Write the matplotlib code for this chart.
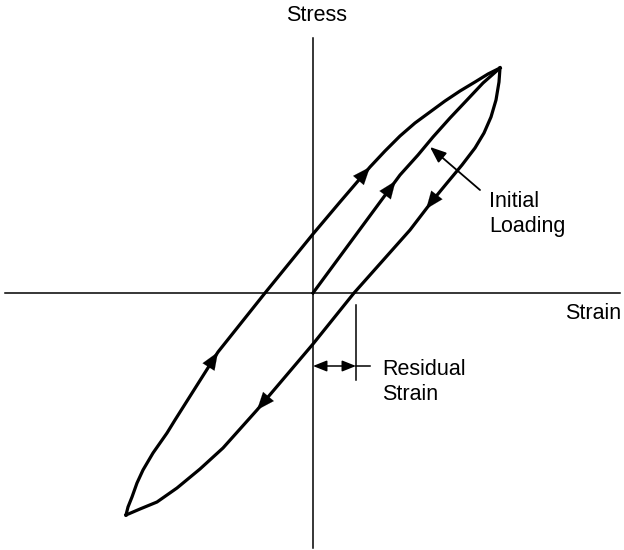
import matplotlib
matplotlib.use("Agg")
import matplotlib.pyplot as plt

# hysteresis loop (strain, stress in arbitrary units)
upper_strain = [-18.7, -18.5, -18.1, -17.6, -17.0, -16.0, -14.6, -13.8, -9.5, -4.8, 0.0, 2.7, 5.7,
                7.2, 8.7, 10.2, 11.7, 13.2, 14.7, 16.2, 17.5, 18.7]
upper_stress = [-22.2, -21.4, -20.4, -19.0, -17.7, -16.0, -14.0, -12.7, -5.9, 0.0, 5.9, 9.1, 12.6,
                14.2, 15.7, 17.0, 18.1, 19.2, 20.2, 21.1, 21.9, 22.5]

initial_strain = [0.0, 8.7, 10.5, 12.0, 13.7, 15.4, 17.0, 18.7]
initial_stress = [0.0, 11.8, 13.8, 15.6, 17.5, 19.3, 21.0, 22.5]

lower_strain = [18.7, 18.6, 18.3, 17.8, 17.1, 16.2, 14.9, 13.4, 12.0, 9.7, 4.1, 0.0, -5.6,
                -9.0, -11.3, -13.6, -15.6, -17.3, -18.7]
lower_stress = [22.5, 21.1, 19.3, 17.6, 16.0, 14.5, 12.8, 11.0, 9.3, 6.3, 0.0, -5.1, -11.7,
                -15.5, -17.6, -19.5, -20.9, -21.6, -22.2]

residual_strain = 4.3

plt.rcParams["font.family"] = ["Liberation Sans", "DejaVu Sans"]

fig = plt.figure(figsize=(6.24, 5.5), dpi=100)
ax = fig.add_axes([0, 0, 1, 1])
ax.set_xlim(-31.3, 31.1)
ax.set_ylim(-25.7, 29.3)
ax.axis("off")

# axes
ax.plot([-30.8, 30.7], [0, 0], color="black", lw=1.1)
ax.plot([0, 0], [-25.5, 25.5], color="black", lw=1.1)

lw = 2.3
ax.plot(upper_strain, upper_stress, color="black", lw=lw, solid_joinstyle="round")
ax.plot(initial_strain, initial_stress, color="black", lw=lw, solid_joinstyle="round")
ax.plot(lower_strain, lower_stress, color="black", lw=lw, solid_joinstyle="round")


def arrow_on(xs, ys, i, t=1.0):
    # arrowhead along segment i -> i+1, tip at fraction t
    x0, y0 = xs[i], ys[i]
    x1, y1 = xs[i + 1], ys[i + 1]
    tx, ty = x0 + t * (x1 - x0), y0 + t * (y1 - y0)
    bx, by = tx - 0.3 * (x1 - x0), ty - 0.3 * (y1 - y0)
    ax.annotate("", xy=(tx, ty), xytext=(bx, by),
                arrowprops=dict(arrowstyle="-|>,head_length=0.7,head_width=0.28",
                                color="black", lw=0.1, mutation_scale=18,
                                shrinkA=0, shrinkB=0))


arrow_on(upper_strain, upper_stress, 7, 1.0)
arrow_on(upper_strain, upper_stress, 11, 1.0)
arrow_on(initial_strain, initial_stress, 0, 0.95)
arrow_on(lower_strain, lower_stress, 8, 0.3)
arrow_on(lower_strain, lower_stress, 11, 1.0)

# labels
fs = 15.5
ax.text(0.4, 26.7, "Stress", fontsize=fs, ha="center", va="bottom")
ax.text(30.8, -1.0, "Strain", fontsize=fs, ha="right", va="top")

# initial loading pointer
ax.annotate("", xy=(11.7, 14.6), xytext=(16.7, 10.3),
            arrowprops=dict(arrowstyle="-|>,head_length=0.7,head_width=0.28",
                            color="black", lw=1.3, mutation_scale=14,
                            shrinkA=0, shrinkB=0))
ax.text(17.6, 7.9, "Initial\nLoading", fontsize=fs, ha="left", va="center",
        linespacing=1.3)

# residual strain
ax.plot([residual_strain, residual_strain], [-1.2, -8.7], color="black", lw=1.1)
ax.annotate("", xy=(0, -7.3), xytext=(residual_strain, -7.3),
            arrowprops=dict(arrowstyle="<|-|>,head_length=0.7,head_width=0.28",
                            color="black", lw=1.1, mutation_scale=12,
                            shrinkA=0, shrinkB=0))
ax.plot([residual_strain, 5.7], [-7.3, -7.3], color="black", lw=1.1)
ax.text(6.9, -8.9, "Residual\nStrain", fontsize=fs, ha="left", va="center",
        linespacing=1.2)

fig.savefig("out.png", dpi=100)
